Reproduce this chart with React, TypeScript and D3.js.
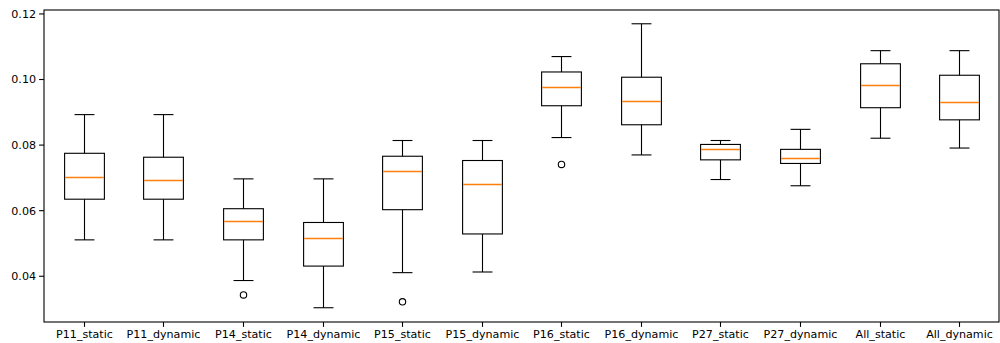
import * as d3 from 'd3'

// box stats (whislo, q1, median, q3, whishi)
const categories = [
  'P11_static', 'P11_dynamic', 'P14_static', 'P14_dynamic', 'P15_static', 'P15_dynamic',
  'P16_static', 'P16_dynamic', 'P27_static', 'P27_dynamic', 'All_static', 'All_dynamic',
]
const whiskerLow = [0.0511, 0.0511, 0.0387, 0.0304, 0.0411, 0.0413, 0.0823, 0.0770, 0.0695, 0.0676, 0.0821, 0.0791]
const q1 = [0.0635, 0.0635, 0.0511, 0.0431, 0.0603, 0.0529, 0.0920, 0.0862, 0.0755, 0.0744, 0.0914, 0.0877]
const medians = [0.0704, 0.0695, 0.0568, 0.0518, 0.0722, 0.0680, 0.0977, 0.0935, 0.0788, 0.0762, 0.0984, 0.0931]
const q3 = [0.0775, 0.0763, 0.0606, 0.0564, 0.0766, 0.0753, 0.1023, 0.1007, 0.0802, 0.0787, 0.1048, 0.1013]
const whiskerHigh = [0.0893, 0.0893, 0.0697, 0.0697, 0.0814, 0.0814, 0.1070, 0.1170, 0.0814, 0.0848, 0.1088, 0.1088]
const outliers: number[][] = [[], [], [0.0343], [], [0.0322], [], [0.0741], [], [], [], [], []]
const yTicks = [0.04, 0.06, 0.08, 0.1, 0.12]

const W = 1000
const H = 343
const left = 44
const right = 999
const top = 10
const bottom = 322

export default function App() {
  const x = d3.scaleLinear().domain([0.5, categories.length + 0.5]).range([left, right])
  const y = d3.scaleLinear().domain([0.02605, 0.1212]).range([bottom, top])
  const snap = (v: number) => Math.round(v) + 0.5
  const boxW = x(1.25) - x(1)
  const capW = boxW / 2
  const fmt = d3.format('.2f')
  const font = { fontFamily: 'DejaVu Sans', fontSize: 11.1 }

  return (
    <svg width={W} height={H} style={{ position: 'absolute', left: 0, top: 0 }}>
      <rect width={W} height={H} fill="#fff" />
      {categories.map((c, i) => {
        const cx = snap(x(i + 1))
        const m = snap(y(medians[i]))
        return (
          <g key={c} stroke="#000" strokeWidth={1.1} fill="none">
            <line x1={cx} x2={cx} y1={y(whiskerLow[i])} y2={y(q1[i])} />
            <line x1={cx} x2={cx} y1={y(q3[i])} y2={y(whiskerHigh[i])} />
            <line x1={cx - capW} x2={cx + capW} y1={y(whiskerLow[i])} y2={y(whiskerLow[i])} />
            <line x1={cx - capW} x2={cx + capW} y1={y(whiskerHigh[i])} y2={y(whiskerHigh[i])} />
            <rect x={cx - boxW} y={y(q3[i])} width={boxW * 2} height={y(q1[i]) - y(q3[i])} />
            <line x1={cx - boxW + 0.6} x2={cx + boxW - 0.6} y1={m} y2={m} stroke="#ff7f0e" strokeWidth={1.3} />
            {outliers[i].map((o, j) => (
              <circle key={j} cx={cx} cy={y(o)} r={3.2} />
            ))}
          </g>
        )
      })}
      {/* axes */}
      <rect x={left} y={top} width={right - left} height={bottom - top} fill="none" stroke="#000" strokeWidth={1.1} />
      {yTicks.map(t => (
        <g key={t}>
          <line x1={left - 4.9} x2={left} y1={y(t)} y2={y(t)} stroke="#000" strokeWidth={1.1} />
          <text x={left - 8} y={y(t)} dy="0.35em" textAnchor="end" style={font} fill="#000">
            {fmt(t)}
          </text>
        </g>
      ))}
      {categories.map((c, i) => {
        const cx = snap(x(i + 1))
        return (
          <g key={c}>
            <line x1={cx} x2={cx} y1={bottom} y2={bottom + 4.9} stroke="#000" strokeWidth={1.1} />
            <text x={cx} y={bottom + 8} dy="0.76em" textAnchor="middle" style={font} fill="#000">
              {c}
            </text>
          </g>
        )
      })}
    </svg>
  )
}
